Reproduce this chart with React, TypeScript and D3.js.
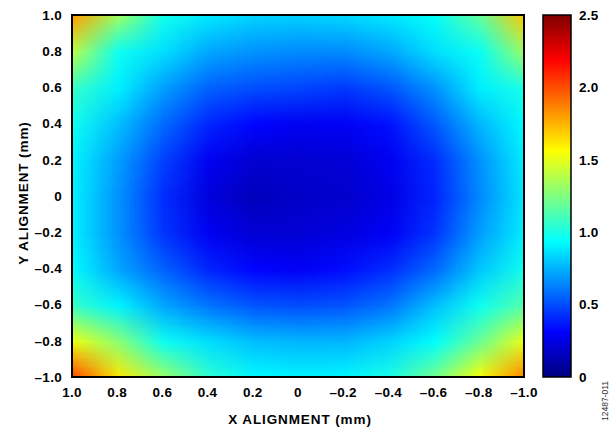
import React, { useMemo } from "react";
import * as d3 from "d3";

// Sample positions of the alignment sweep (mm)
const xPositions = [1.0, 0.8, 0.6, 0.4, 0.2, 0, -0.2, -0.4, -0.6, -0.8, -1.0];
const yPositions = [1.0, 0.8, 0.6, 0.4, 0.2, 0, -0.2, -0.4, -0.6, -0.8, -1.0];

// Measured error at each (y row, x column)
const errorGrid = [
  [1.80, 1.32, 0.98, 0.88, 0.83, 0.82, 0.84, 0.88, 0.95, 1.18, 1.70],
  [1.38, 0.97, 0.86, 0.72, 0.67, 0.65, 0.65, 0.72, 0.86, 0.96, 1.32],
  [1.07, 0.90, 0.70, 0.55, 0.50, 0.48, 0.45, 0.52, 0.67, 0.90, 1.00],
  [0.97, 0.78, 0.57, 0.40, 0.32, 0.28, 0.29, 0.35, 0.53, 0.76, 0.93],
  [0.91, 0.70, 0.47, 0.28, 0.20, 0.20, 0.21, 0.28, 0.42, 0.67, 0.90],
  [0.90, 0.67, 0.42, 0.23, 0.15, 0.18, 0.19, 0.25, 0.40, 0.65, 0.88],
  [0.90, 0.67, 0.44, 0.28, 0.21, 0.21, 0.24, 0.29, 0.44, 0.70, 0.90],
  [0.93, 0.72, 0.55, 0.40, 0.32, 0.29, 0.34, 0.42, 0.57, 0.80, 0.98],
  [1.07, 0.91, 0.72, 0.60, 0.52, 0.50, 0.52, 0.60, 0.78, 0.97, 1.15],
  [1.52, 1.28, 0.97, 0.86, 0.78, 0.76, 0.76, 0.83, 0.94, 1.20, 1.52],
  [2.02, 1.62, 1.32, 1.05, 0.93, 0.91, 0.92, 1.00, 1.22, 1.55, 1.88],
];

const xTickValues = [1.0, 0.8, 0.6, 0.4, 0.2, 0, -0.2, -0.4, -0.6, -0.8, -1.0];
const xTickLabels = ["1.0", "0.8", "0.6", "0.4", "0.2", "0", "\u20130.2", "\u20130.4", "\u20130.6", "\u20130.8", "\u20131.0"];
const yTickValues = [1.0, 0.8, 0.6, 0.4, 0.2, 0, -0.2, -0.4, -0.6, -0.8, -1.0];
const yTickLabels = ["1.0", "0.8", "0.6", "0.4", "0.2", "0", "\u20130.2", "\u20130.4", "\u20130.6", "\u20130.8", "\u20131.0"];
const colorTickValues = [0, 0.5, 1.0, 1.5, 2.0, 2.5];
const colorTickLabels = ["0", "0.5", "1.0", "1.5", "2.0", "2.5"];

const colorDomain: [number, number] = [0, 2.5];
const jetStops = [0, 0.125, 0.375, 0.625, 0.875, 1];
const jetColors = ["#00007f", "#0000ff", "#00ffff", "#ffff00", "#ff0000", "#7f0000"];

const W = 614;
const H = 429;
const plot = { left: 72, right: 524, top: 15, bottom: 377 };
const bar = { left: 543, right: 571 };
const FONT = "'Liberation Sans', Arial, Helvetica, sans-serif";

export default function App() {
  const xScale = d3.scaleLinear().domain([1, -1]).range([plot.left, plot.right]);
  const yScale = d3.scaleLinear().domain([1, -1]).range([plot.top, plot.bottom]);
  const cScale = d3.scaleLinear().domain(colorDomain).range([plot.bottom, plot.top]);
  const jet = d3
    .scaleLinear<string>()
    .domain(jetStops.map((t) => colorDomain[0] + t * (colorDomain[1] - colorDomain[0])))
    .range(jetColors)
    .interpolate(d3.interpolateRgb)
    .clamp(true);

  // Paint one pixel per sample; the browser smooths it when scaled up.
  const heatmapUrl = useMemo(() => {
    const canvas = document.createElement("canvas");
    canvas.width = xPositions.length;
    canvas.height = yPositions.length;
    const ctx = canvas.getContext("2d");
    if (!ctx) return "";
    errorGrid.forEach((row, j) => {
      row.forEach((v, i) => {
        ctx.fillStyle = jet(v);
        ctx.fillRect(i, j, 1, 1);
      });
    });
    return canvas.toDataURL();
  }, []);

  const cellW = Math.abs(xScale(xPositions[1]) - xScale(xPositions[0]));
  const cellH = Math.abs(yScale(yPositions[1]) - yScale(yPositions[0]));
  const imgX = xScale(xPositions[0]) - cellW / 2;
  const imgY = yScale(yPositions[0]) - cellH / 2;

  return (
    <svg
      width={W}
      height={H}
      style={{ position: "absolute", left: 0, top: 0, background: "#fff" }}
      fontFamily={FONT}
    >
      <defs>
        <clipPath id="plot-clip">
          <rect x={plot.left} y={plot.top} width={plot.right - plot.left} height={plot.bottom - plot.top} />
        </clipPath>
        <linearGradient id="jet-bar" x1="0" y1="1" x2="0" y2="0">
          {jetStops.map((t, i) => (
            <stop key={i} offset={t} stopColor={jetColors[i]} />
          ))}
        </linearGradient>
      </defs>

      <g clipPath="url(#plot-clip)">
        <image
          href={heatmapUrl}
          x={imgX}
          y={imgY}
          width={cellW * xPositions.length}
          height={cellH * yPositions.length}
          preserveAspectRatio="none"
          style={{ imageRendering: "auto" }}
        />
      </g>
      <rect
        x={plot.left}
        y={plot.top}
        width={plot.right - plot.left}
        height={plot.bottom - plot.top}
        fill="none"
        stroke="#000"
        strokeWidth={2}
      />

      {/* Y axis labels */}
      {yTickValues.map((v, i) => (
        <text
          key={`y${i}`}
          x={62}
          y={yScale(v)}
          dy="0.35em"
          textAnchor="end"
          fontSize={13.5}
          fontWeight="bold"
          letterSpacing={0.3}
        >
          {yTickLabels[i]}
        </text>
      ))}

      {/* X axis labels */}
      {xTickValues.map((v, i) => (
        <text
          key={`x${i}`}
          x={xScale(v)}
          y={397}
          textAnchor="middle"
          fontSize={13.5}
          fontWeight="bold"
          letterSpacing={0.3}
        >
          {xTickLabels[i]}
        </text>
      ))}

      <text
        x={(plot.left + plot.right) / 2 + 2}
        y={423.5}
        textAnchor="middle"
        fontSize={13.5}
        fontWeight="bold"
        letterSpacing={0.9}
      >
        X ALIGNMENT (mm)
      </text>
      <text
        transform={`translate(28, ${(plot.top + plot.bottom) / 2 - 3}) rotate(-90)`}
        textAnchor="middle"
        fontSize={13.5}
        fontWeight="bold"
        letterSpacing={0.9}
      >
        Y ALIGNMENT (mm)
      </text>

      {/* Colour bar */}
      <rect
        x={bar.left}
        y={plot.top}
        width={bar.right - bar.left}
        height={plot.bottom - plot.top}
        fill="url(#jet-bar)"
        stroke="#000"
        strokeWidth={1.5}
      />
      {colorTickValues.map((v, i) => (
        <text
          key={`c${i}`}
          x={579}
          y={cScale(v)}
          dy="0.35em"
          fontSize={13.5}
          fontWeight="bold"
          letterSpacing={0.3}
        >
          {colorTickLabels[i]}
        </text>
      ))}

      <text
        transform="translate(608, 401) rotate(-90)"
        textAnchor="middle"
        fontSize={8.5}
        fill="#333"
      >
        12487-011
      </text>
    </svg>
  );
}
